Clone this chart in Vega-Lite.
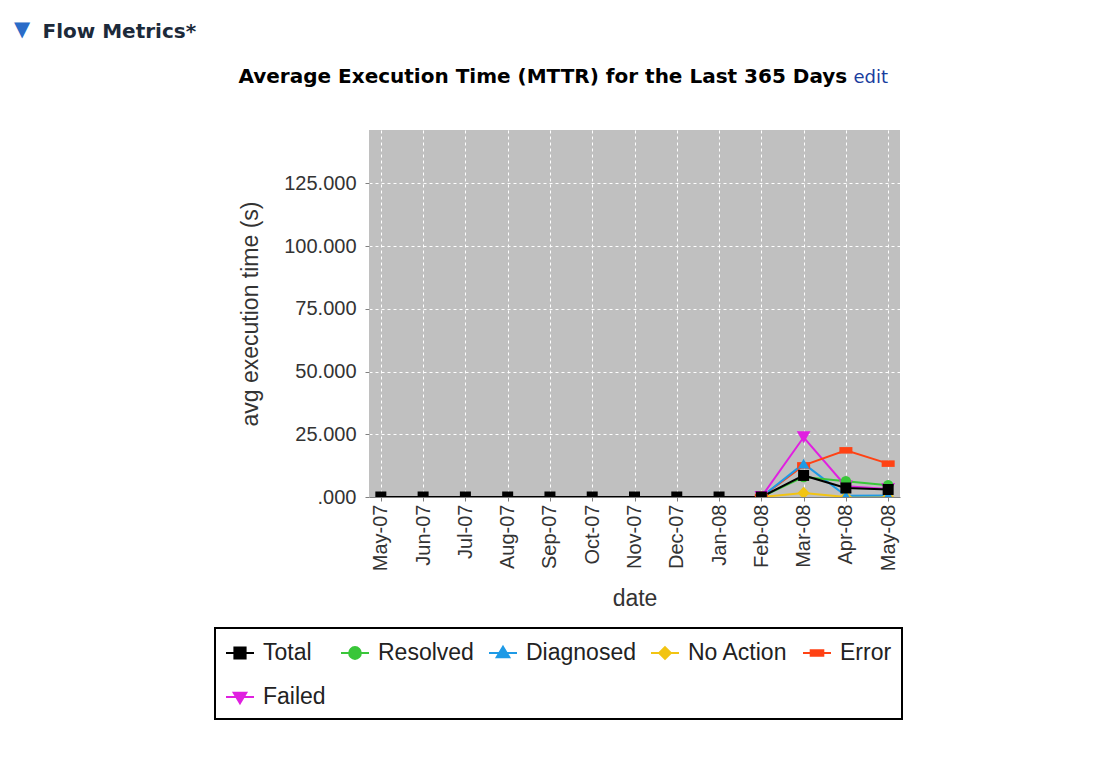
{
  "$schema": "https://vega.github.io/schema/vega-lite/v6.json",
  "width": 531,
  "height": 367,
  "autosize": {"type": "none"},
  "padding": {"left": 369, "top": 130, "right": 208, "bottom": 260},
  "background": "#ffffff",
  "title": {"text": "▼", "anchor": "start", "frame": "group", "dx": -355, "dy": 19, "offset": 0, "color": "#2a6cc8", "fontSize": 21, "font": "DejaVu Sans", "fontWeight": "normal"},
  "data": {
    "values": [
      {"month": "Feb-08", "i": 9, "series": "Failed", "value": 0},
      {"month": "Mar-08", "i": 10, "series": "Failed", "value": 23.8},
      {"month": "Apr-08", "i": 11, "series": "Failed", "value": 4.3},
      {"month": "May-08", "i": 12, "series": "Failed", "value": 3.2},
      {"month": "Feb-08", "i": 9, "series": "Error", "value": 0},
      {"month": "Mar-08", "i": 10, "series": "Error", "value": 12.6},
      {"month": "Apr-08", "i": 11, "series": "Error", "value": 18.6},
      {"month": "May-08", "i": 12, "series": "Error", "value": 13.3},
      {"month": "Feb-08", "i": 9, "series": "No Action", "value": 0},
      {"month": "Mar-08", "i": 10, "series": "No Action", "value": 1.6},
      {"month": "Apr-08", "i": 11, "series": "No Action", "value": 0},
      {"month": "May-08", "i": 12, "series": "No Action", "value": 0},
      {"month": "Feb-08", "i": 9, "series": "Diagnosed", "value": 0},
      {"month": "Mar-08", "i": 10, "series": "Diagnosed", "value": 13.3},
      {"month": "Apr-08", "i": 11, "series": "Diagnosed", "value": 0.5},
      {"month": "May-08", "i": 12, "series": "Diagnosed", "value": 0.6},
      {"month": "Feb-08", "i": 9, "series": "Resolved", "value": 0},
      {"month": "Mar-08", "i": 10, "series": "Resolved", "value": 8.0},
      {"month": "Apr-08", "i": 11, "series": "Resolved", "value": 6.3},
      {"month": "May-08", "i": 12, "series": "Resolved", "value": 4.7},
      {"month": "May-07", "i": 0, "series": "Total", "value": 0},
      {"month": "Jun-07", "i": 1, "series": "Total", "value": 0},
      {"month": "Jul-07", "i": 2, "series": "Total", "value": 0},
      {"month": "Aug-07", "i": 3, "series": "Total", "value": 0},
      {"month": "Sep-07", "i": 4, "series": "Total", "value": 0},
      {"month": "Oct-07", "i": 5, "series": "Total", "value": 0},
      {"month": "Nov-07", "i": 6, "series": "Total", "value": 0},
      {"month": "Dec-07", "i": 7, "series": "Total", "value": 0},
      {"month": "Jan-08", "i": 8, "series": "Total", "value": 0},
      {"month": "Feb-08", "i": 9, "series": "Total", "value": 0},
      {"month": "Mar-08", "i": 10, "series": "Total", "value": 8.6},
      {"month": "Apr-08", "i": 11, "series": "Total", "value": 3.6},
      {"month": "May-08", "i": 12, "series": "Total", "value": 3.0}
    ]
  },
  "config": {
    "view": {"fill": "#c0c0c0", "stroke": null},
    "axis": {
      "labelFont": "Liberation Sans",
      "titleFont": "Liberation Sans",
      "labelColor": "#333333",
      "titleColor": "#333333",
      "labelFontSize": 20,
      "titleFontSize": 23,
      "titleFontWeight": "normal",
      "gridColor": "#ffffff",
      "gridDash": [3, 3],
      "gridOpacity": 1,
      "gridWidth": 1,
      "domainColor": "#808080",
      "tickColor": "#808080"
    }
  },
  "resolve": {"axis": {"x": "independent"}},
  "layer": [
    {
      "transform": [{"filter": "datum.series !== 'Total'"}],
      "mark": {"type": "line", "strokeWidth": 2, "clip": true},
      "encoding": {
        "x": {
          "field": "month", "type": "ordinal",
          "scale": {"type": "point", "padding": 0.28, "domain": ["May-07", "Jun-07", "Jul-07", "Aug-07", "Sep-07", "Oct-07", "Nov-07", "Dec-07", "Jan-08", "Feb-08", "Mar-08", "Apr-08", "May-08"]},
          "axis": {"title": "date", "orient": "bottom", "labelAngle": -90, "labelAlign": "right", "labelBaseline": "middle", "labelPadding": 3, "tickSize": 4, "grid": true, "titlePadding": 17}
        },
        "y": {
          "field": "value", "type": "quantitative",
          "scale": {"domain": [0, 146.3], "nice": false, "zero": true},
          "axis": {"title": "avg execution time (s)", "values": [0, 25, 50, 75, 100, 125], "labelExpr": "datum.value === 0 ? '.000' : format(datum.value, ',.3f')", "grid": true, "domain": false, "tickSize": 4, "labelPadding": 9, "titlePadding": 21}
        },
        "color": {
          "field": "series", "type": "nominal",
          "scale": {"domain": ["Total", "Resolved", "Diagnosed", "No Action", "Error", "Failed"], "range": ["#000000", "#39c639", "#1e9ae6", "#f2c412", "#ff4214", "#e020e0"]},
          "legend": {
            "orient": "none", "legendX": -154, "legendY": 498,
            "direction": "horizontal", "columns": 5,
            "title": null,
            "strokeColor": "#000000", "fillColor": "#ffffff", "padding": 10,
            "symbolSize": 784,
            "labelFont": "Liberation Sans", "labelFontSize": 23, "labelColor": "#222222",
            "labelOffset": 8, "columnPadding": 11, "rowPadding": 17, "labelLimit": 300,
            "encode": {
              "legend": {"update": {"strokeWidth": {"value": 2}}},
              "symbols": {"update": {
                "shape": {"signal": "datum.value === 'Total' ? 'M-1,0H1M-0.4,-0.4H0.4V0.4H-0.4Z' : datum.value === 'Resolved' ? 'M-1,0H1M-0.42,0A0.42,0.42,0,1,1,0.42,0A0.42,0.42,0,1,1,-0.42,0Z' : datum.value === 'Diagnosed' ? 'M-1,0H1M0,-0.45L0.45,0.3L-0.45,0.3Z' : datum.value === 'No Action' ? 'M-1,0H1M0,-0.42L0.42,0L0,0.42L-0.42,0Z' : datum.value === 'Error' ? 'M-1,0H1M-0.45,-0.2H0.45V0.2H-0.45Z' : 'M-1,0H1M0,0.45L0.45,-0.3L-0.45,-0.3Z'"},
                "fill": {"scale": "color", "field": "value"},
                "stroke": {"scale": "color", "field": "value"},
                "strokeWidth": {"value": 2},
                "opacity": {"value": 1},
                "fillOpacity": {"value": 1},
                "size": {"value": 784}
              }}
            }
          }
        },
        "order": {"field": "i", "type": "quantitative"}
      }
    },
    {
      "transform": [{"filter": "datum.series === 'Total'"}],
      "mark": {"type": "line", "strokeWidth": 2, "clip": true, "color": "#000000"},
      "encoding": {
        "x": {
          "field": "month", "type": "ordinal",
          "axis": {"orient": "top", "labels": false, "ticks": false, "domain": false, "grid": false,
            "title": "Flow Metrics*", "titleX": -327, "titleY": -93, "titleAlign": "left", "titleBaseline": "alphabetic", "titleAngle": 0,
            "titleFont": "DejaVu Sans", "titleFontWeight": "bold", "titleFontSize": 20, "titleColor": "#1c2a3a"}
        },
        "y": {"field": "value", "type": "quantitative"},
        "order": {"field": "i", "type": "quantitative"}
      }
    },
    {
      "transform": [{"filter": "datum.series !== 'Total'"}],
      "mark": {"type": "point", "filled": true, "opacity": 1, "strokeWidth": 0, "clip": true},
      "encoding": {
        "x": {
          "field": "month", "type": "ordinal",
          "axis": {"orient": "top", "labels": false, "ticks": false, "domain": false, "grid": false,
            "title": "Average Execution Time (MTTR) for the Last 365 Days", "titleX": -131, "titleY": -48, "titleAlign": "left", "titleBaseline": "alphabetic", "titleAngle": 0,
            "titleFont": "DejaVu Sans", "titleFontWeight": "bold", "titleFontSize": 20, "titleColor": "#000000"}
        },
        "y": {"field": "value", "type": "quantitative"},
        "color": {"field": "series", "type": "nominal"},
        "shape": {
          "field": "series", "type": "nominal",
          "scale": {"domain": ["Resolved", "Diagnosed", "No Action", "Error", "Failed"], "range": ["circle", "triangle-up", "diamond", "M-1,-0.5H1V0.5H-1Z", "triangle-down"]},
          "legend": null
        },
        "size": {
          "field": "series", "type": "nominal",
          "scale": {"domain": ["Resolved", "Diagnosed", "No Action", "Error", "Failed"], "range": [110, 190, 120, 196, 210]},
          "legend": null
        }
      }
    },
    {
      "transform": [{"filter": "datum.series === 'Total'"}],
      "mark": {"type": "point", "shape": "square", "filled": true, "opacity": 1, "strokeWidth": 0, "size": 121, "clip": true, "color": "#000000"},
      "encoding": {
        "x": {
          "field": "month", "type": "ordinal",
          "axis": {"orient": "top", "labels": false, "ticks": false, "domain": false, "grid": false,
            "title": "edit", "titleX": 484, "titleY": -48, "titleAlign": "left", "titleBaseline": "alphabetic", "titleAngle": 0,
            "titleFont": "DejaVu Sans", "titleFontWeight": "normal", "titleFontSize": 18, "titleColor": "#1a3d9e"}
        },
        "y": {"field": "value", "type": "quantitative"}
      }
    }
  ]
}
